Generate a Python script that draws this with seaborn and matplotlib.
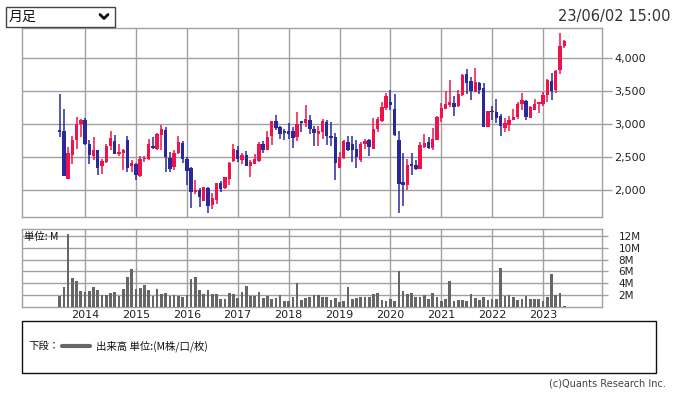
import numpy as np
import pandas as pd
import matplotlib
matplotlib.use("Agg")
import matplotlib.pyplot as plt
import seaborn as sns
from matplotlib.patches import Rectangle
from matplotlib.lines import Line2D

# ---- data (monthly candles, Jul 2013 - Jun 2023) ----
start_month = "2013-07"
n_months = 120
opens = [2914, 2899, 2177, 2541, 2768, 3000, 3066, 2697, 2520, 2606, 2374, 2435,
         2677, 2748, 2556, 2571, 2758, 2364, 2399, 2222, 2475, 2480, 2662, 2626,
         2844, 2914, 2490, 2349, 2566, 2717, 2475, 2339, 1970, 2005, 1844, 2030,
         1783, 1859, 2111, 2041, 2172, 2445, 2606, 2465, 2536, 2374, 2404, 2450,
         2702, 2616, 2828, 3051, 2965, 2894, 2894, 2894, 2813, 3040, 3025, 3061,
         2929, 2859, 2889, 3030, 2828, 2808, 2344, 2495, 2727, 2697, 2626, 2465,
         2707, 2758, 2631, 2929, 3056, 3253, 3333, 3232, 2763, 2126, 2086, 2389,
         2384, 2323, 2657, 2732, 2647, 2768, 3101, 3237, 3298, 3323, 3278, 3444,
         3763, 3657, 3490, 3626, 3550, 2960, 3197, 3182, 3121, 2950, 2995, 3071,
         3111, 3308, 3354, 3101, 3222, 3308, 3308, 3444, 3657, 3515, 3818, 4182]
highs = [3465, 3237, 2657, 2828, 3111, 3076, 3096, 2758, 2808, 2606, 2475, 2697,
         2899, 2838, 2707, 2626, 2828, 2465, 2414, 2515, 2515, 2778, 2808, 2869,
         2990, 2960, 2581, 2616, 2823, 2748, 2505, 2354, 2157, 2035, 2051, 2051,
         1965, 2111, 2142, 2207, 2435, 2702, 2667, 2566, 2596, 2455, 2551, 2727,
         2748, 2899, 3051, 3142, 2980, 2929, 3020, 2960, 3187, 3051, 3293, 3142,
         2980, 2970, 3081, 3071, 3030, 2869, 2581, 2758, 2823, 2823, 2758, 2727,
         2778, 2778, 3101, 3111, 3333, 3475, 3520, 3460, 2899, 2566, 2475, 2566,
         2455, 2727, 2854, 2808, 2939, 3131, 3323, 3505, 3677, 3434, 3525, 3763,
         3838, 3717, 3848, 3646, 3626, 3197, 3278, 3384, 3152, 3096, 3121, 3232,
         3338, 3475, 3364, 3273, 3384, 3338, 3485, 3687, 3778, 3818, 4389, 4273]
lows = [2808, 2212, 2177, 2404, 2631, 2808, 2682, 2404, 2455, 2238, 2253, 2414,
        2606, 2556, 2525, 2303, 2273, 2273, 2162, 2202, 2430, 2465, 2621, 2606,
        2606, 2283, 2283, 2313, 2546, 2414, 2086, 1738, 1950, 1748, 1844, 1662,
        1717, 1798, 1975, 2025, 2086, 2435, 2424, 2404, 2374, 2202, 2394, 2435,
        2566, 2606, 2692, 2909, 2778, 2768, 2778, 2647, 2748, 2889, 2960, 2849,
        2667, 2677, 2778, 2682, 2677, 2162, 2339, 2480, 2596, 2435, 2344, 2435,
        2626, 2525, 2631, 2889, 3040, 3212, 3212, 2828, 1657, 1768, 2005, 2227,
        2303, 2323, 2647, 2626, 2616, 2758, 3030, 3232, 3263, 3131, 3263, 3434,
        3465, 3374, 3485, 3465, 2960, 2960, 3071, 3020, 2828, 2879, 2899, 3066,
        3081, 3222, 3071, 3091, 3212, 3172, 3283, 3343, 3374, 3475, 3768, 4162]
closes = [2884, 2222, 2566, 2768, 3005, 3061, 2707, 2541, 2606, 2344, 2440, 2672,
          2788, 2556, 2571, 2616, 2344, 2414, 2238, 2470, 2490, 2702, 2647, 2859,
          2929, 2510, 2328, 2571, 2732, 2480, 2298, 1980, 2005, 1904, 2051, 1768,
          1879, 2111, 2025, 2197, 2414, 2626, 2475, 2536, 2374, 2430, 2475, 2702,
          2616, 2808, 3051, 2950, 2859, 2869, 2859, 2798, 3000, 3025, 3081, 2934,
          2869, 2894, 3051, 2823, 2798, 2419, 2505, 2748, 2616, 2606, 2505, 2702,
          2748, 2662, 2929, 3081, 3263, 3429, 3293, 2843, 2101, 2086, 2379, 2374,
          2323, 2687, 2722, 2647, 2778, 3111, 3247, 3308, 3338, 3263, 3460, 3747,
          3626, 3505, 3636, 3515, 2960, 3197, 3187, 3101, 2980, 3015, 3066, 3111,
          3308, 3369, 3111, 3263, 3303, 3338, 3439, 3677, 3505, 3808, 4187, 4263]
volumes = [1.94, 3.4, 12.3, 4.9, 4.4, 2.7, 2.6, 2.7, 3.4, 2.9, 2.05, 2.05,
           2.4, 2.6, 1.9, 3.1, 5.1, 6.4, 3.1, 3.2, 3.7, 2.9, 1.9, 3.1,
           2.2, 2.4, 1.9, 2.05, 1.9, 1.7, 2.05, 4.75, 5.1, 2.9, 2.2, 2.9,
           2.2, 2.2, 1.4, 1.4, 2.4, 2.2, 1.55, 2.6, 3.6, 1.9, 1.9, 2.6,
           1.55, 1.9, 1.4, 1.55, 2.05, 1.05, 1.05, 1.7, 4.1, 1.2, 1.55, 1.7,
           2.05, 2.05, 1.7, 1.7, 1.2, 1.55, 0.9, 1.05, 3.4, 1.4, 1.55, 1.7,
           1.7, 1.7, 2.2, 2.4, 1.2, 1.05, 1.4, 1.05, 6.1, 2.7, 2.2, 2.4,
           1.7, 1.7, 2.05, 1.4, 2.4, 1.7, 1.05, 1.4, 4.4, 1.05, 1.2, 1.2,
           1.05, 2.2, 1.55, 1.2, 1.7, 1.2, 1.4, 1.4, 6.6, 1.9, 2.05, 1.7,
           1.2, 1.4, 1.9, 1.4, 1.4, 1.4, 1.05, 1.7, 5.6, 2.05, 2.4, 0.2]
year_labels = ["2014", "2015", "2016", "2017", "2018", "2019", "2020", "2021", "2022", "2023"]
price_ticks = [2000, 2500, 3000, 3500, 4000]
vol_ticks = [2, 4, 6, 8, 10, 12]

months = pd.period_range(start_month, periods=n_months, freq="M")
df = pd.DataFrame({"month": months, "open": opens, "high": highs,
                   "low": lows, "close": closes, "volume": volumes})
df["idx"] = np.arange(len(df))
year_pos = [int(df.index[(df["month"].dt.year == int(y)) & (df["month"].dt.month == 1)][0])
            for y in year_labels]

UP = "#F0124A"
DOWN = "#2B2999"
GRID = "#A0A0A0"

sns.set_theme(style="white")
plt.rcParams["font.family"] = ["DejaVu Sans", "Noto Sans CJK JP"]
CJK = ["Noto Sans CJK JP", "DejaVu Sans"]

W, H = 675, 394
fig = plt.figure(figsize=(W / 100, H / 100), dpi=100)

def fx(px):
    return px / W

def fy(py):
    return 1 - py / H

L, R = 22.3, 601.7
axp = fig.add_axes([fx(L), fy(217), fx(R - L), (217 - 27.7) / H])
axv = fig.add_axes([fx(L), fy(307.2), fx(R - L), (307.2 - 228.5) / H])

xlim = (-8.8, 127.83)

# ---- candles ----
up = df["close"] >= df["open"]
cols = np.where(up, UP, DOWN)
axp.vlines(df["idx"], df["low"], df["high"], colors=cols, linewidth=1.1, zorder=3)
bottoms = np.minimum(df["open"], df["close"])
heights = np.maximum(np.abs(df["close"] - df["open"]), 18)
axp.bar(df["idx"], heights, bottom=bottoms, width=0.8, color=cols, linewidth=0, zorder=4)

axp.set_xlim(*xlim)
axp.set_ylim(1595, 4464)
axp.set_xticks(year_pos)
axp.set_xticklabels([])
axp.yaxis.tick_right()
axp.set_yticks(price_ticks)
axp.set_yticklabels([f"{v:,}" for v in price_ticks])
axp.grid(True, color=GRID, linewidth=1.0)
axp.tick_params(axis="y", right=True, length=7, width=1, color=GRID, pad=2,
                labelsize=8, labelcolor="#222222")
axp.tick_params(axis="x", bottom=False, length=0)
for s in axp.spines.values():
    s.set_color(GRID)
    s.set_linewidth(1.0)
axp.set_axisbelow(True)

# ---- volume ----
sns.barplot(data=df, x="idx", y="volume", native_scale=True, color="#666666",
            saturation=1, width=0.63, ax=axv, linewidth=0, zorder=3)
axv.set_xlim(*xlim)
axv.set_ylim(0, 13.2)
axv.set_xticks(year_pos)
axv.set_xticklabels(year_labels)
axv.yaxis.tick_right()
axv.set_yticks(vol_ticks)
axv.set_yticklabels([f"{v}M" for v in vol_ticks])
axv.set_xlabel("")
axv.set_ylabel("")
axv.grid(True, color=GRID, linewidth=1.0)
axv.tick_params(axis="y", right=True, length=4, width=1, color=GRID, pad=8,
                labelsize=7.5, labelcolor="#222222")
axv.tick_params(axis="x", bottom=False, length=0, pad=2, labelsize=8, labelcolor="#222222")
for s in axv.spines.values():
    s.set_color(GRID)
    s.set_linewidth(1.0)
axv.set_axisbelow(True)
axv.text(0.003, 0.895, "単位: M", transform=axv.transAxes, ha="left", va="center",
         fontsize=7.5, family=CJK, color="#111111", zorder=5)

# ---- header: dropdown + timestamp ----
fig.add_artist(Rectangle((fx(6), fy(27)), fx(109), 20 / H, transform=fig.transFigure,
                         fill=True, facecolor="white", edgecolor="#444444", linewidth=1))
fig.text(fx(9), fy(17), "月足", ha="left", va="center", fontsize=10, family=CJK, color="#111111")
fig.add_artist(Line2D([fx(100), fx(104), fx(108)], [fy(14.5), fy(18.5), fy(14.5)],
                      transform=fig.transFigure, color="#111111", linewidth=2))
fig.text(fx(670), fy(17), "23/06/02 15:00", ha="right", va="center", fontsize=10.5,
         color="#333333")

# ---- legend box ----
fig.add_artist(Rectangle((fx(22), fy(373)), fx(634), 52 / H, transform=fig.transFigure,
                         fill=False, edgecolor="#111111", linewidth=1))
fig.text(fx(28), fy(346), "下段：", ha="left", va="center", fontsize=7.5, family=CJK,
         color="#111111")
fig.add_artist(Line2D([fx(62), fx(90)], [fy(346), fy(346)], transform=fig.transFigure,
                      color="#666666", linewidth=3))
fig.text(fx(96), fy(346), "出来高 単位:(M株/口/枚)", ha="left", va="center", fontsize=7.5,
         family=CJK, color="#111111")
fig.text(fx(666), fy(384), "(c)Quants Research Inc.", ha="right", va="center",
         fontsize=7, color="#444444")

fig.savefig("out.png", dpi=100)
